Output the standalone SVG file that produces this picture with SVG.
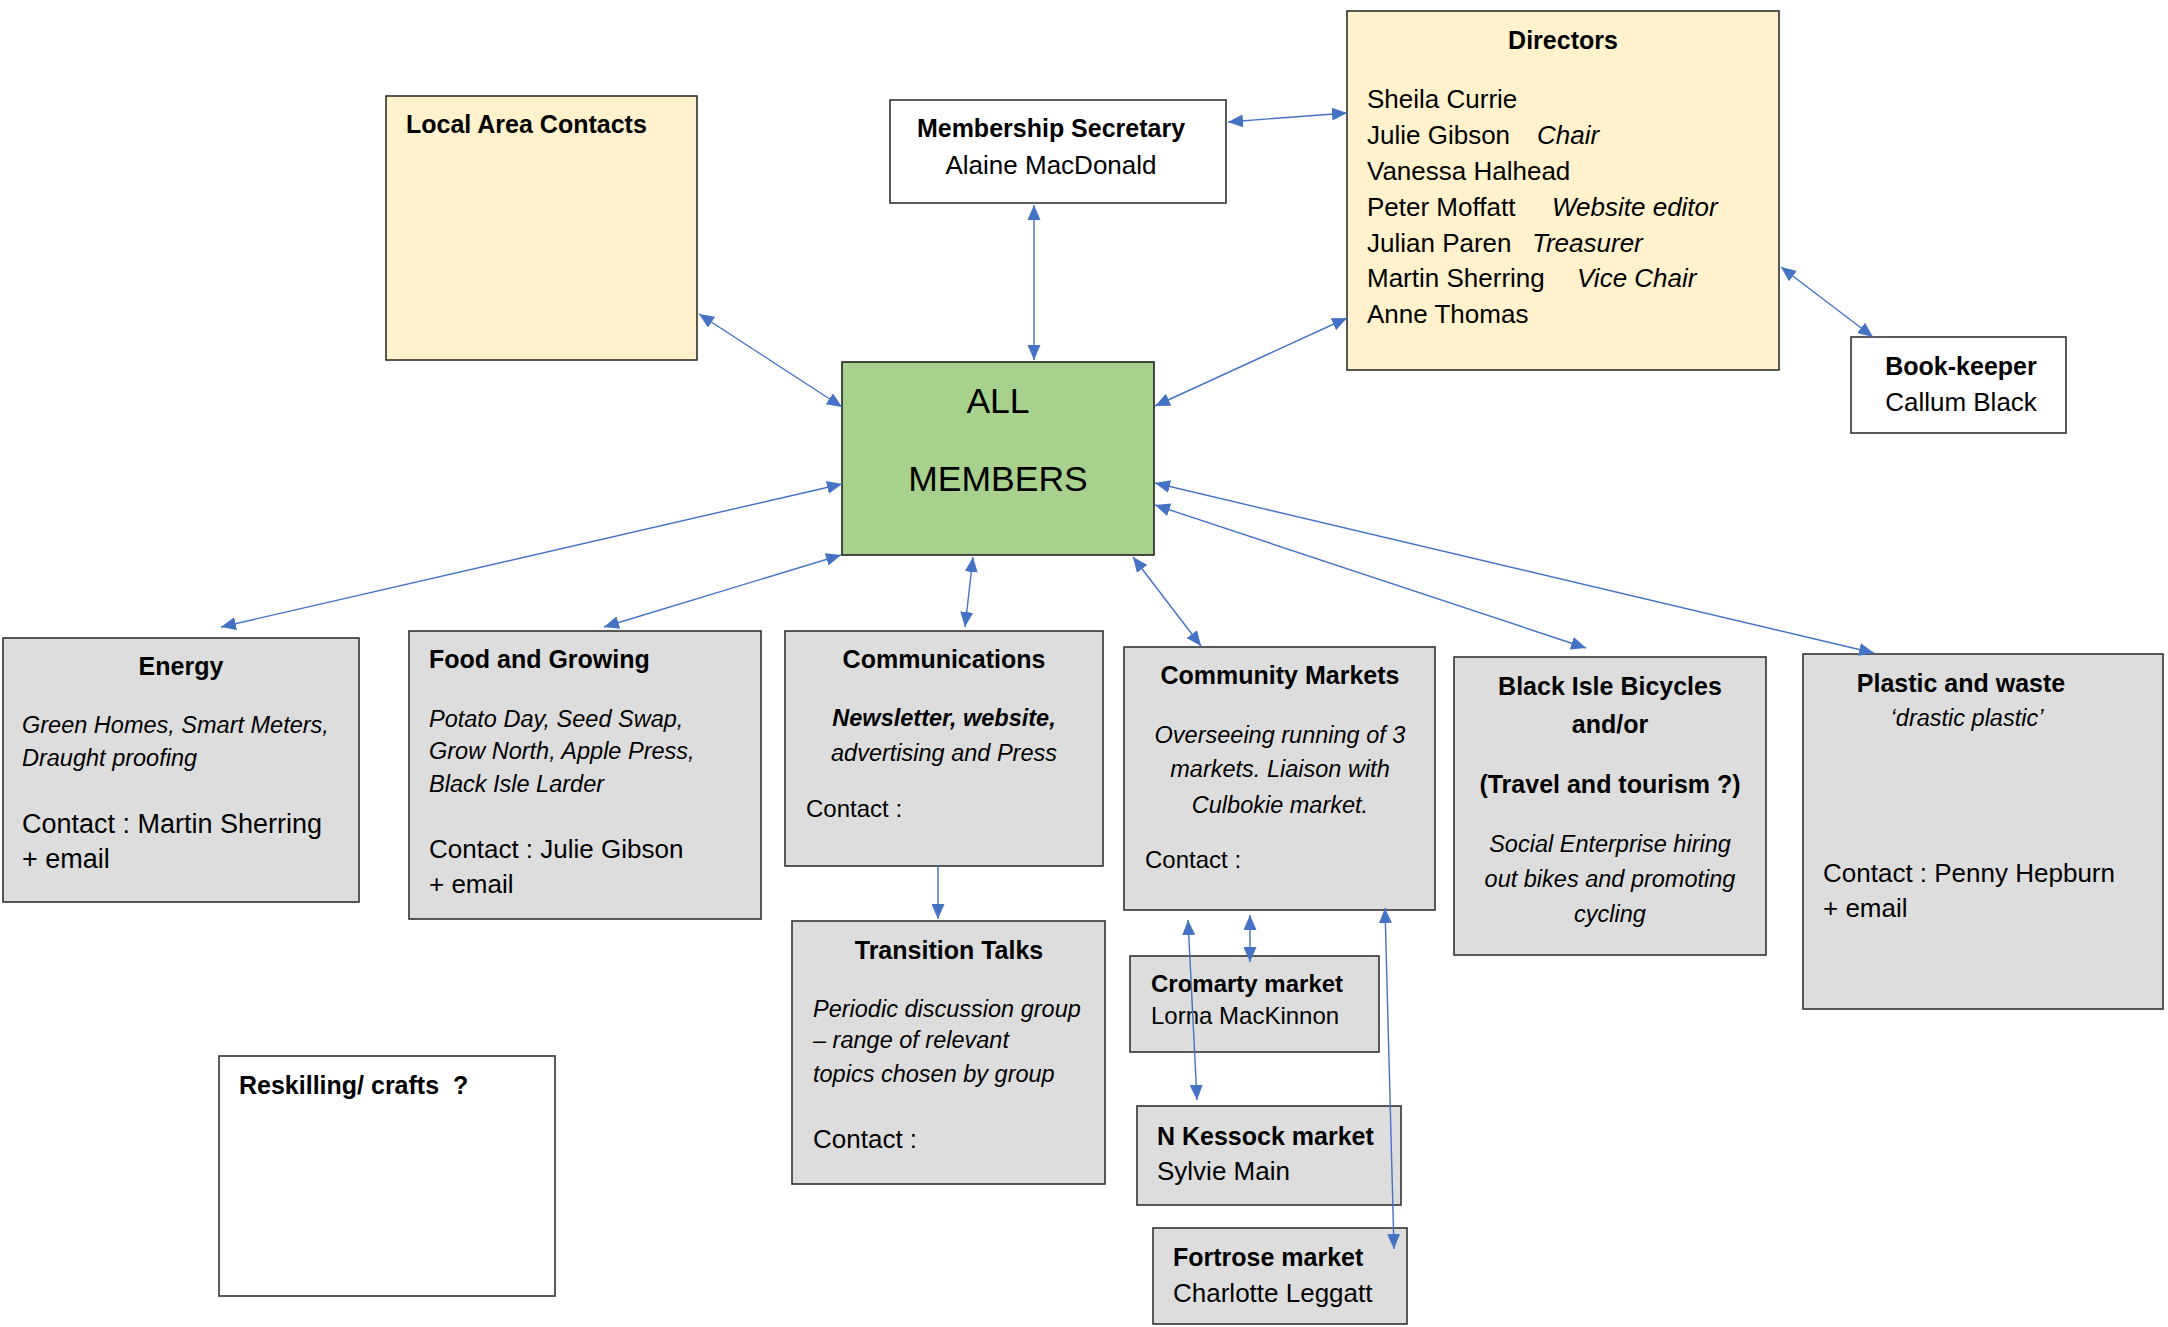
<svg xmlns="http://www.w3.org/2000/svg" width="2168" height="1327" viewBox="0 0 2168 1327">
<defs>
<marker id="ah" viewBox="0 0 15 13" markerWidth="15" markerHeight="13" refX="15" refY="6.5" orient="auto-start-reverse" markerUnits="userSpaceOnUse">
<path d="M0,0 L15,6.5 L0,13 z" fill="#4472C4"/>
</marker>
</defs>
<style>
text{font-family:"Liberation Sans",Arial,sans-serif;fill:#000}
.h{font-weight:bold;font-size:25px}
.t{font-size:26px}
.t27{font-size:27px}
.i{font-style:italic;font-size:23.5px}
.bi{font-style:italic;font-weight:bold;font-size:23.5px}
.m{font-size:24px}
.mb{font-size:24px;font-weight:bold}
.c{text-anchor:middle}
.big{font-size:35.5px}
.y{fill:#FFF2CC;stroke:#222;stroke-width:1.5}
.g{fill:#DDDDDD;stroke:#333;stroke-width:1.6}
.w{fill:#FFFFFF;stroke:#333;stroke-width:1.6}
.gr{fill:#A9D18E;stroke:#222;stroke-width:1.6}
.cn line{stroke:#4472C4;stroke-width:1.4;fill:none}
</style>
<rect width="2168" height="1327" fill="#FFFFFF"/>

<g id="local-area-contacts">
<rect class="y" x="386" y="96" width="311" height="264"/>
<text class="h" x="406" y="133">Local Area Contacts</text>
</g>

<g id="membership-secretary">
<rect class="w" x="890" y="100" width="336" height="103"/>
<text class="h c" x="1051" y="137">Membership Secretary</text>
<text class="t c" x="1051" y="174">Alaine MacDonald</text>
</g>

<g id="directors">
<rect class="y" x="1347" y="11" width="432" height="359"/>
<text class="h c" x="1563" y="49">Directors</text>
<text class="t" x="1367" y="108">Sheila Currie</text>
<text class="t" x="1367" y="144">Julie Gibson<tspan x="1537" font-style="italic">Chair</tspan></text>
<text class="t" x="1367" y="180">Vanessa Halhead</text>
<text class="t" x="1367" y="216">Peter Moffatt<tspan x="1552" font-style="italic">Website editor</tspan></text>
<text class="t" x="1367" y="252">Julian Paren<tspan x="1532" font-style="italic">Treasurer</tspan></text>
<text class="t" x="1367" y="287">Martin Sherring<tspan x="1577" font-style="italic">Vice Chair</tspan></text>
<text class="t" x="1367" y="323">Anne Thomas</text>
</g>

<g id="book-keeper">
<rect class="w" x="1851" y="337" width="215" height="96"/>
<text class="h c" x="1961" y="375">Book-keeper</text>
<text class="t c" x="1961" y="411">Callum Black</text>
</g>

<g id="all-members">
<rect class="gr" x="842" y="362" width="312" height="193"/>
<text class="big c" x="998" y="413">ALL</text>
<text class="big c" x="998" y="491">MEMBERS</text>
</g>

<g id="energy">
<rect class="g" x="3" y="638" width="356" height="264"/>
<text class="h c" x="181" y="675">Energy</text>
<text class="i" x="22" y="733">Green Homes, Smart Meters,</text>
<text class="i" x="22" y="766">Draught proofing</text>
<text class="t27" x="22" y="833">Contact : Martin Sherring</text>
<text class="t27" x="22" y="868">+ email</text>
</g>

<g id="food-and-growing">
<rect class="g" x="409" y="631" width="352" height="288"/>
<text class="h" x="429" y="668">Food and Growing</text>
<text class="i" x="429" y="727">Potato Day, Seed Swap,</text>
<text class="i" x="429" y="759">Grow North, Apple Press,</text>
<text class="i" x="429" y="792">Black Isle Larder</text>
<text class="t" x="429" y="858">Contact : Julie Gibson</text>
<text class="t" x="429" y="893">+ email</text>
</g>

<g id="communications">
<rect class="g" x="785" y="631" width="318" height="235"/>
<text class="h c" x="944" y="668">Communications</text>
<text class="bi c" x="944" y="726">Newsletter, website,</text>
<text class="i c" x="944" y="761">advertising and Press</text>
<text class="m" x="806" y="817">Contact :</text>
</g>

<g id="community-markets">
<rect class="g" x="1124" y="647" width="311" height="263"/>
<text class="h c" x="1280" y="684">Community Markets</text>
<text class="i c" x="1280" y="743">Overseeing running of 3</text>
<text class="i c" x="1280" y="777">markets. Liaison with</text>
<text class="i c" x="1280" y="813">Culbokie market.</text>
<text class="m" x="1145" y="868">Contact :</text>
</g>

<g id="black-isle-bicycles">
<rect class="g" x="1454" y="657" width="312" height="298"/>
<text class="h c" x="1610" y="695">Black Isle Bicycles</text>
<text class="h c" x="1610" y="733">and/or</text>
<text class="h c" x="1610" y="793">(Travel and tourism ?)</text>
<text class="i c" x="1610" y="852">Social Enterprise hiring</text>
<text class="i c" x="1610" y="887">out bikes and promoting</text>
<text class="i c" x="1610" y="922">cycling</text>
</g>

<g id="plastic-and-waste">
<rect class="g" x="1803" y="654" width="360" height="355"/>
<text class="h c" x="1961" y="692">Plastic and waste</text>
<text class="i c" x="1967" y="726">‘drastic plastic’</text>
<text class="t" x="1823" y="882">Contact : Penny Hepburn</text>
<text class="t" x="1823" y="917">+ email</text>
</g>

<g id="transition-talks">
<rect class="g" x="792" y="921" width="313" height="263"/>
<text class="h c" x="949" y="959">Transition Talks</text>
<text class="i" x="813" y="1017">Periodic discussion group</text>
<text class="i" x="813" y="1048">– range of relevant</text>
<text class="i" x="813" y="1082">topics chosen by group</text>
<text class="t" x="813" y="1148">Contact :</text>
</g>

<g id="cromarty-market">
<rect class="g" x="1130" y="956" width="249" height="96"/>
<text class="mb" x="1151" y="992">Cromarty market</text>
<text class="m" x="1151" y="1024">Lorna MacKinnon</text>
</g>

<g id="n-kessock-market">
<rect class="g" x="1137" y="1106" width="264" height="99"/>
<text class="h" x="1157" y="1145">N Kessock market</text>
<text class="t" x="1157" y="1180">Sylvie Main</text>
</g>

<g id="fortrose-market">
<rect class="g" x="1153" y="1228" width="254" height="96"/>
<text class="h" x="1173" y="1266">Fortrose market</text>
<text class="t" x="1173" y="1302">Charlotte Leggatt</text>
</g>

<g id="reskilling-crafts">
<rect class="w" x="219" y="1056" width="336" height="240"/>
<text class="h" x="239" y="1094" xml:space="preserve">Reskilling/ crafts  ?</text>
</g>

<g id="connectors" class="cn">
<line x1="699" y1="314" x2="842" y2="407" marker-start="url(#ah)" marker-end="url(#ah)"/>
<line x1="1034" y1="205" x2="1034" y2="360" marker-start="url(#ah)" marker-end="url(#ah)"/>
<line x1="1228" y1="122" x2="1347" y2="113" marker-start="url(#ah)" marker-end="url(#ah)"/>
<line x1="1347" y1="318" x2="1155" y2="406" marker-start="url(#ah)" marker-end="url(#ah)"/>
<line x1="1781" y1="267" x2="1873" y2="337" marker-start="url(#ah)" marker-end="url(#ah)"/>
<line x1="842" y1="484" x2="221" y2="627" marker-start="url(#ah)" marker-end="url(#ah)"/>
<line x1="841" y1="555" x2="604" y2="627" marker-start="url(#ah)" marker-end="url(#ah)"/>
<line x1="973" y1="557" x2="965" y2="627" marker-start="url(#ah)" marker-end="url(#ah)"/>
<line x1="1133" y1="557" x2="1201" y2="646" marker-start="url(#ah)" marker-end="url(#ah)"/>
<line x1="1155" y1="505" x2="1586" y2="648" marker-start="url(#ah)" marker-end="url(#ah)"/>
<line x1="1155" y1="483" x2="1874" y2="653" marker-start="url(#ah)" marker-end="url(#ah)"/>
<line x1="938" y1="865" x2="938" y2="919" marker-end="url(#ah)"/>
<line x1="1250" y1="915" x2="1250" y2="962" marker-start="url(#ah)" marker-end="url(#ah)"/>
<line x1="1188" y1="920" x2="1197" y2="1100" marker-start="url(#ah)" marker-end="url(#ah)"/>
<line x1="1385" y1="908" x2="1394" y2="1249" marker-start="url(#ah)" marker-end="url(#ah)"/>
</g>
</svg>
